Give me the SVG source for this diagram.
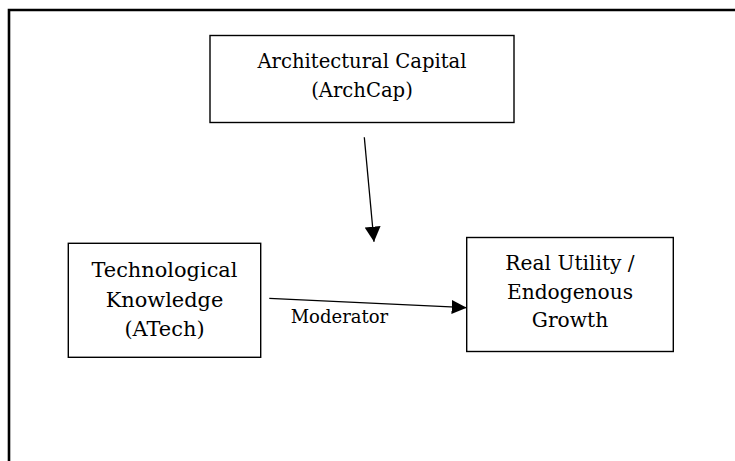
<svg xmlns="http://www.w3.org/2000/svg" width="735" height="461" viewBox="0 0 735 461">
  <style>
    .box { fill: #ffffff; stroke: #000000; stroke-width: 1.4; }
    .lbl { font-family: "DejaVu Serif", "Liberation Serif", serif; fill: #000000; text-anchor: middle; }
    .conn { stroke: #000000; stroke-width: 1.3; fill: none; }
    .frame { stroke: #000000; stroke-width: 2.6; fill: none; }
  </style>
  <defs>
    <marker id="arrowH" markerUnits="userSpaceOnUse" markerWidth="15" markerHeight="14" refX="15" refY="7" orient="auto">
      <path d="M0,0 L15,7 L0,14 Z" fill="#000000"/>
    </marker>
    <marker id="arrowV" markerUnits="userSpaceOnUse" markerWidth="15" markerHeight="16" refX="15" refY="8" orient="auto">
      <path d="M0,0 L15,8 L0,16 Z" fill="#000000"/>
    </marker>
  </defs>
  <rect x="0" y="0" width="735" height="461" fill="#ffffff"/>
  <path class="frame" d="M9,461 V10 H735"/>

  <g id="archcap">
    <rect class="box" x="210" y="35.5" width="304" height="87"/>
    <text class="lbl" x="362" y="68.3" font-size="19.6">Architectural Capital</text>
    <text class="lbl" x="362" y="97.3" font-size="19.6">(ArchCap)</text>
  </g>

  <g id="atech">
    <rect class="box" x="68.3" y="243.3" width="192.4" height="114"/>
    <text class="lbl" x="164.5" y="276.7" font-size="20.9">Technological</text>
    <text class="lbl" x="164.5" y="306.5" font-size="20.9">Knowledge</text>
    <text class="lbl" x="164.5" y="336" font-size="20.9">(ATech)</text>
  </g>

  <g id="utility">
    <rect class="box" x="466.7" y="237.5" width="206.6" height="114"/>
    <text class="lbl" x="570" y="270" font-size="20.2">Real Utility /</text>
    <text class="lbl" x="570" y="299" font-size="20.2">Endogenous</text>
    <text class="lbl" x="570" y="326.7" font-size="20.2">Growth</text>
  </g>

  <g id="connectors">
    <line class="conn" x1="364.3" y1="137.3" x2="374" y2="241.7" marker-end="url(#arrowV)"/>
    <line class="conn" x1="269.3" y1="298.3" x2="466.7" y2="307.7" marker-end="url(#arrowH)"/>
    <text x="290.7" y="323.3" font-size="18" font-family="DejaVu Serif, Liberation Serif, serif" fill="#000000">Moderator</text>
  </g>
</svg>
